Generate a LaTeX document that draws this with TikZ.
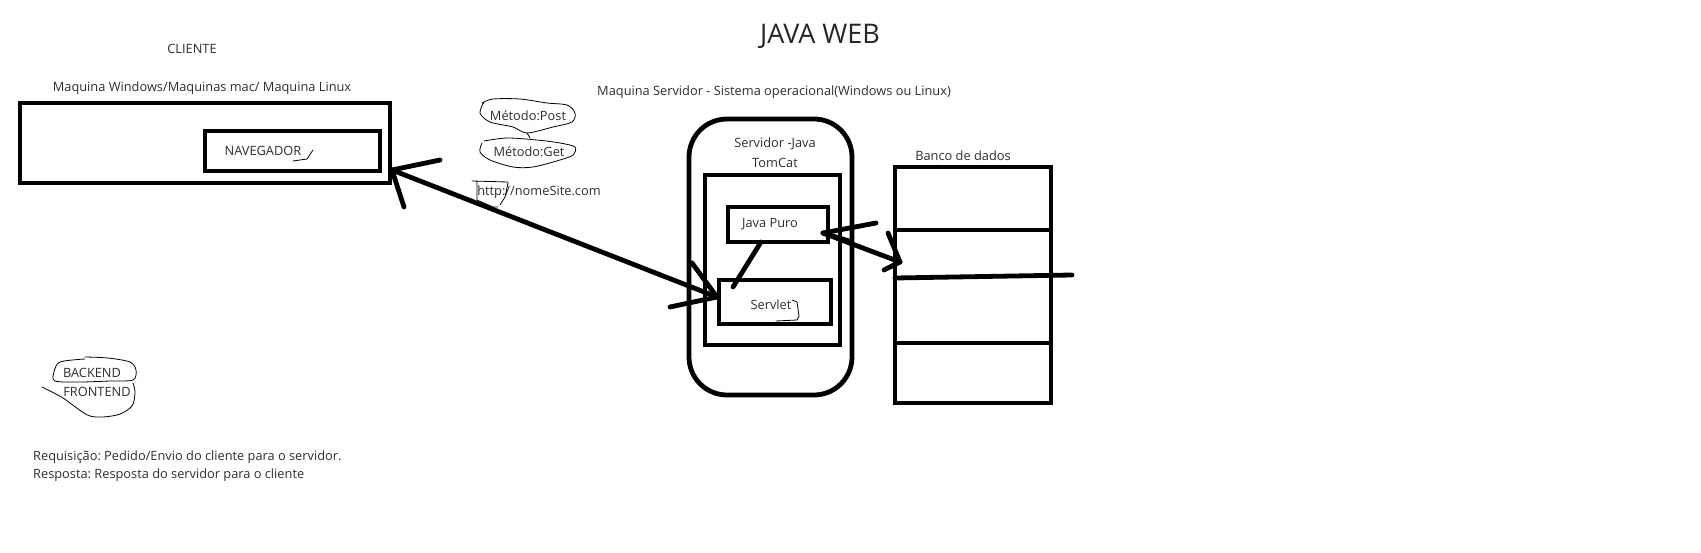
\documentclass[tikz,border=0pt]{standalone}
\usepackage{fontspec}
\setmainfont{Open Sans}
\frenchspacing
\begin{document}
\begin{tikzpicture}[x=1pt,y=-1pt,
  txt/.style={inner sep=0pt, text=black!82, font=\fontsize{12.8}{15}\selectfont},
  bigbox/.style={draw, line width=4.8pt, inner sep=0pt, minimum width=#1},
  heavy/.style={line width=4.8pt, line cap=round},
  scribble/.style={line width=0.8pt, line cap=round, line join=round}]
\useasboundingbox[fill=white] (0,0) rectangle (1701,552);

% titles
\node[inner sep=0pt, text=black!85, font=\fontsize{27}{30}\selectfont] (title) at (820,36) {JAVA WEB};
\node[txt] (cliente) at (192,49) {CLIENTE};
\node[txt] (maqc) at (202,88) {Maquina Windows/Maquinas mac/ Maquina Linux};
\node[txt] (maqs) at (774,92) {Maquina Servidor - Sistema operacional(Windows ou Linux)};

% client machine
\node[bigbox=370pt, minimum height=80pt] (client) at (205,143) {};
\node[bigbox=175pt, minimum height=40pt] (nav) at (292.5,151) {};
\node[txt] (navtxt) at (263,151) {NAVEGADOR};
\draw[scribble] (293,161) -- (307,159) -- (313,150);

% methods
\node[txt] (post) at (528,116) {Método:Post};
\node[txt] (get) at (529,152) {Método:Get};
\node[txt] (http) at (539,192) {http://nomeSite.com};
\draw[scribble] plot[smooth] coordinates {(482,103) (493,99) (520,99) (547,103) (567,105) (575,113) (572,122) (553,127) (527,133) (513,127) (490,122) (480,113) (484,102)};
\draw[scribble] (527,133) -- (530,138);
\draw[scribble] plot[smooth] coordinates {(484,141) (507,138) (537,140) (560,143) (575,147) (573,155) (560,160) (533,167) (513,167) (490,160) (480,152) (482,143)};
\draw[scribble] (472,181) -- (508,182) (477,182) -- (477,200) -- (493,207) -- (498,207) (508,183) -- (505,197) -- (500,205);

% server
\node[draw, line width=4.8pt, inner sep=0pt, rounded corners=38pt, minimum width=163pt, minimum height=276pt] (server) at (770.5,257) {};
\node[txt] (srv1) at (775,144) {Servidor -Java};
\node[txt] (srv2) at (775,163) {TomCat};
\node[bigbox=135pt, minimum height=170pt] (tomcat) at (772.5,260) {};
\node[bigbox=100pt, minimum height=35pt] (jp) at (778,224.5) {};
\node[txt] (jptxt) at (770,224) {Java Puro};
\node[bigbox=112pt, minimum height=44pt] (servlet) at (775,302) {};
\node[txt] (servlettxt) at (771,305) {Servlet};
\draw[scribble] (792,300) -- (797,302) -- (799,316) -- (797,320) -- (776,321);

% database
\node[txt] (banco) at (963,156) {Banco de dados};
\node[bigbox=156pt, minimum height=236pt] (db) at (973,285) {};
\draw[line width=4.8pt] (895,230) -- (1051,230);
\draw[line width=4.8pt, line cap=round] (895,278) -- (1072,275);
\draw[line width=4.8pt] (895,343) -- (1051,343);

% client <-> servlet
\coordinate (tipC) at (392,170);
\coordinate (tipS) at (717,297);
\draw[heavy] (tipC) -- (tipS);
\draw[heavy] (tipC) -- (440,160);
\draw[heavy] (tipC) -- (404,207);
\draw[heavy] (tipS) -- (692,263);
\draw[heavy] (tipS) -- (670,307);

% java puro -- servlet
\coordinate (jpb) at (761,242);
\coordinate (slt) at (733,287);
\draw[heavy] (jpb) -- (slt);

% java puro <-> db
\coordinate (tipJ) at (823,233);
\coordinate (tipD) at (900,262);
\draw[heavy] (tipJ) -- (tipD);
\draw[heavy] (tipJ) -- (876,223);
\draw[heavy] (tipJ) -- (849,241);
\draw[heavy] (tipD) -- (888,233);
\draw[heavy] (tipD) -- (884,270);

% backend / frontend
\node[txt] (backend) at (92,373) {BACKEND};
\node[txt] (frontend) at (97,392) {FRONTEND};
\draw[scribble] plot[smooth] coordinates {(85,357) (108,358) (130,362) (136,370) (133,380) (110,381) (80,382) (55,381) (54,372) (60,362) (85,359)};
\draw[scribble] plot[smooth] coordinates {(42,387) (63,398) (90,416) (117,415) (132,406) (135,392) (133,383)};

% notes
\node[txt, anchor=west] (req) at (33,457) {Requisição: Pedido/Envio do cliente para o servidor.};
\node[txt, anchor=west] (resp) at (33,475) {Resposta: Resposta do servidor para o cliente};
\end{tikzpicture}
\end{document}
